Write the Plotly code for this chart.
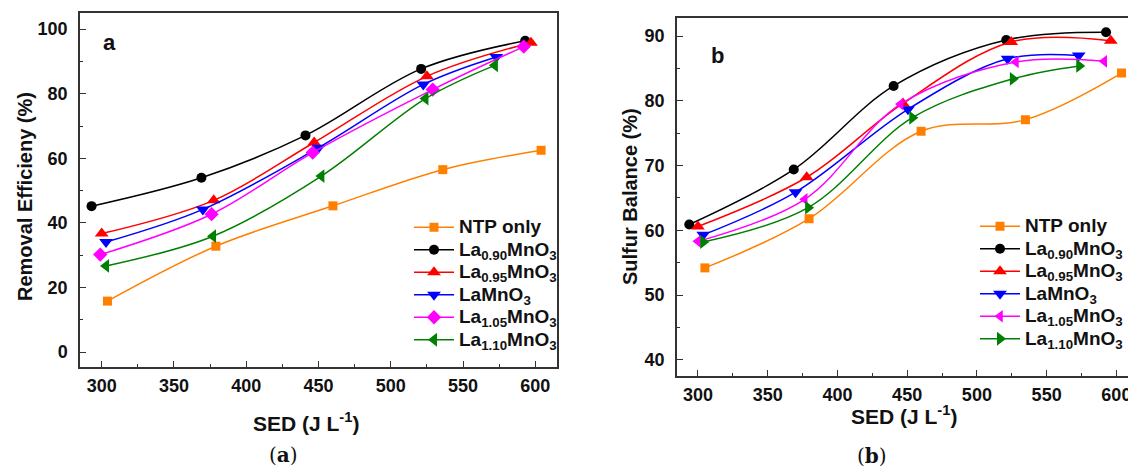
import plotly.graph_objects as go

W, H = 1136, 466
OFF = 8  # page body margin of the browser

# ---------------- data: panel (a) Removal Efficiency ----------------
a_ntp_x = [304, 379, 460, 536, 604]
a_ntp_y = [15.8, 32.8, 45.3, 56.5, 62.5]
a_090_x = [293, 369, 441, 521, 593]
a_090_y = [45.2, 54.0, 67.1, 87.7, 96.4]
a_095_x = [300, 377.5, 447, 525, 597]
a_095_y = [36.7, 47.0, 64.9, 85.4, 95.8]
a_100_x = [303, 370, 450, 522.5, 573]
a_100_y = [34.1, 44.2, 63.3, 82.9, 91.4]
a_105_x = [299, 376, 446, 529, 592]
a_105_y = [30.2, 42.7, 61.8, 81.3, 94.6]
a_110_x = [303, 377, 452, 524, 572]
a_110_y = [26.7, 35.9, 54.5, 78.5, 88.8]

# ---------------- data: panel (b) Sulfur Balance ----------------
b_ntp_x = [305, 379.7, 460, 534.8, 603.7]
b_ntp_y = [54.2, 61.8, 75.3, 77.1, 84.3]
b_090_x = [293.8, 368.7, 440.3, 521, 592.6]
b_090_y = [60.9, 69.4, 82.3, 89.4, 90.6]
b_095_x = [300, 378, 447, 524.6, 596]
b_095_y = [60.6, 68.2, 79.6, 89.1, 89.3]
b_100_x = [303.8, 370, 450.6, 522, 573]
b_100_y = [59.3, 65.9, 78.7, 86.5, 87.0]
b_105_x = [300, 376.6, 445.3, 528, 591.3]
b_105_y = [58.3, 64.8, 79.5, 86.0, 86.1]
b_110_x = [303.8, 379, 453.7, 525.8, 573.4]
b_110_y = [58.2, 63.5, 77.4, 83.4, 85.4]

names = ["NTP only",
         "La<sub>0.90</sub>MnO<sub>3</sub>",
         "La<sub>0.95</sub>MnO<sub>3</sub>",
         "LaMnO<sub>3</sub>",
         "La<sub>1.05</sub>MnO<sub>3</sub>",
         "La<sub>1.10</sub>MnO<sub>3</sub>"]
colors = ["#FF8000", "#000000", "#FF0000", "#0000FF", "#FF00FF", "#008000"]
symbols_a = ["square", "circle", "triangle-up", "triangle-down", "diamond", "triangle-left"]
symbols_b = ["square", "circle", "triangle-up", "triangle-down", "triangle-left", "triangle-right"]
sizes = [9, 10, 12, 12, 11, 12]

panel_a = [(a_ntp_x, a_ntp_y), (a_090_x, a_090_y), (a_095_x, a_095_y),
           (a_100_x, a_100_y), (a_105_x, a_105_y), (a_110_x, a_110_y)]
panel_b = [(b_ntp_x, b_ntp_y), (b_090_x, b_090_y), (b_095_x, b_095_y),
           (b_100_x, b_100_y), (b_105_x, b_105_y), (b_110_x, b_110_y)]

FONT = "Liberation Sans, Arial, sans-serif"


def leg_label(s):
    return '<span style="font-size:19px">' + s + '</span>'


fig = go.Figure()
for i, (xs, ys) in enumerate(panel_a):
    fig.add_trace(go.Scatter(
        x=xs, y=ys, mode="lines+markers", name=leg_label(names[i]),
        line=dict(color=colors[i], width=1.5, shape="spline", smoothing=1.0),
        marker=dict(symbol=symbols_a[i], size=sizes[i], color=colors[i]),
        xaxis="x", yaxis="y", legend="legend"))
for i, (xs, ys) in enumerate(panel_b):
    fig.add_trace(go.Scatter(
        x=xs, y=ys, mode="lines+markers", name=leg_label(names[i]),
        line=dict(color=colors[i], width=1.5, shape="spline", smoothing=1.0),
        marker=dict(symbol=symbols_b[i], size=sizes[i], color=colors[i]),
        xaxis="x2", yaxis="y2", legend="legend2"))


def px_x(p):
    return (p - OFF) / W


def px_y(p):
    return 1 - (p - OFF) / H


axis_common = dict(
    showline=True, linecolor="#333333", linewidth=1.5, mirror=True,
    ticks="inside", ticklen=6, tickwidth=1.2, tickcolor="#333333",
    showgrid=False, zeroline=False,
    tickfont=dict(family=FONT, size=18, color="#111111", weight="bold"),
)

fig.update_layout(
    width=W, height=H,
    margin=dict(l=0, r=0, t=0, b=0),
    paper_bgcolor="white", plot_bgcolor="white",
    font=dict(family=FONT, color="#111111"),
    xaxis=dict(domain=[px_x(80), px_x(557)], range=[285, 615], anchor="y",
               tickvals=[300, 350, 400, 450, 500, 550, 600], ticklabelstandoff=2,
               minor=dict(ticks="inside", ticklen=3, tickcolor="#333333", dtick=25, tick0=275),
               **axis_common),
    yaxis=dict(domain=[px_y(367), px_y(13)], range=[-4.6, 105], anchor="x",
               tickvals=[0, 20, 40, 60, 80, 100], ticklabelstandoff=7,
               minor=dict(ticks="inside", ticklen=3, tickcolor="#333333", dtick=10, tick0=0),
               **axis_common),
    xaxis2=dict(domain=[px_x(677), px_x(1134.5)], range=[285, 613], anchor="y2",
                tickvals=[300, 350, 400, 450, 500, 550, 600], ticklabelstandoff=2,
                minor=dict(ticks="inside", ticklen=3, tickcolor="#333333", dtick=25, tick0=275),
                **axis_common),
    yaxis2=dict(domain=[px_y(376), px_y(18)], range=[37.5, 92.8], anchor="x2",
                tickvals=[40, 50, 60, 70, 80, 90], ticklabelstandoff=7,
                minor=dict(ticks="inside", ticklen=3, tickcolor="#333333", dtick=5, tick0=40),
                **axis_common),
    legend=dict(x=px_x(409), y=px_y(211), xanchor="left", yanchor="top",
                bgcolor="rgba(0,0,0,0)", borderwidth=0,
                font=dict(family=FONT, size=15, color="#111111", weight="bold"),
                itemwidth=40, tracegroupgap=0),
    legend2=dict(x=px_x(975), y=px_y(210), xanchor="left", yanchor="top",
                 bgcolor="rgba(0,0,0,0)", borderwidth=0,
                 font=dict(family=FONT, size=15, color="#111111", weight="bold"),
                 itemwidth=40, tracegroupgap=0),
    showlegend=True,
)

ann_font = dict(family=FONT, size=21, color="#111111", weight="bold")
serif = dict(family="DejaVu Serif, Liberation Serif, serif", size=20, color="#111111")
annotations = [
    dict(text="a", x=px_x(109), y=px_y(43), font=dict(family=FONT, size=22, color="#111111", weight="bold")),
    dict(text="b", x=px_x(717), y=px_y(55), font=dict(family=FONT, size=22, color="#111111", weight="bold")),
    dict(text="SED (J L<sup>-1</sup>)", x=px_x(306), y=px_y(422), font=ann_font),
    dict(text="SED (J L<sup>-1</sup>)", x=px_x(904), y=px_y(415), font=ann_font),
    dict(text="Removal Efficieny (%)", x=px_x(25), y=px_y(197), textangle=-90,
         font=dict(family=FONT, size=20, color="#111111", weight="bold")),
    dict(text="Sulfur Balance (%)", x=px_x(630), y=px_y(197), textangle=-90,
         font=dict(family=FONT, size=20, color="#111111", weight="bold")),
    dict(text="(<b>a</b>)", x=px_x(283), y=px_y(455), font=serif),
    dict(text="(<b>b</b>)", x=px_x(872), y=px_y(456), font=serif),
]
for a in annotations:
    a.update(xref="paper", yref="paper", showarrow=False, xanchor="center", yanchor="middle")
fig.update_layout(annotations=annotations)

fig.write_html("out.html")
